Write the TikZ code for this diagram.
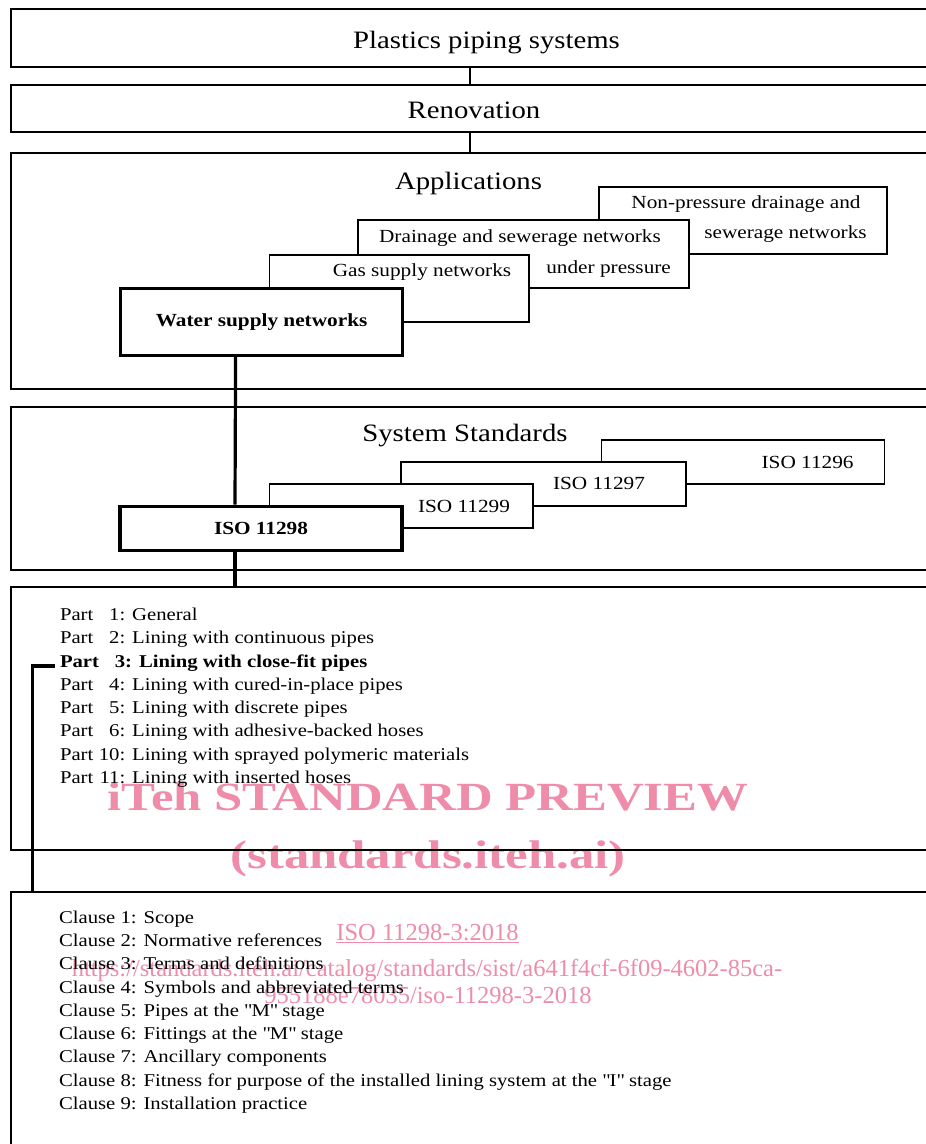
\documentclass[tikz,border=0pt]{standalone}
\usepackage{fontspec}
\setmainfont{Liberation Serif}[FakeStretch=1.15]
\newfontfamily\markfont{Liberation Serif}[FakeStretch=1.27]
\newfontfamily\linkfont{Liberation Serif}
\usetikzlibrary{positioning}
\definecolor{itehpink}{RGB}{238,140,170}
\newcommand{\pno}[1]{\makebox[21pt][r]{#1}}

\begin{document}
\begin{tikzpicture}[
    x=1pt, y=-1pt,
    frame/.style={draw, line width=1.8pt, anchor=north west, inner sep=0pt},
    stack/.style={draw, fill=white, line width=1.8pt, anchor=north west, inner sep=0pt},
    keybox/.style={stack, line width=3.2pt, font=\fontsize{18.5}{22}\selectfont\bfseries},
    title/.style={anchor=base, inner sep=0pt, font=\fontsize{25}{30}\selectfont},
    lbl/.style={anchor=base, inner sep=0pt, font=\fontsize{18.5}{22}\selectfont},
    item/.style={anchor=north west, inner sep=0pt, outer sep=0pt, text height=14pt, text depth=5pt, minimum height=23.25pt, font=\fontsize{18}{23}\selectfont},
    wm/.style={anchor=base, inner sep=0pt, text=itehpink},
    link/.style={line width=1.8pt},
    thicklink/.style={line width=3.2pt}
]
\useasboundingbox (0,0) rectangle (926,1144);
\clip (0,0) rectangle (926,1144);

\node[wm, font=\markfont\bfseries\fontsize{40}{48}\selectfont] (wm1) at (428,810) {iTeh STANDARD PREVIEW};
\node[wm, font=\markfont\bfseries\fontsize{40}{48}\selectfont] (wm2) at (428,868) {(standards.iteh.ai)};
\node[wm, font=\linkfont\fontsize{24.5}{29}\selectfont] (wm3) at (427.5,940.7) {\underline{ISO 11298-3:2018}};
\node[wm, font=\linkfont\fontsize{24.5}{29}\selectfont] (wm4) at (427,976) {https://standards.iteh.ai/catalog/standards/sist/a641f4cf-6f09-4602-85ca-};
\node[wm, font=\linkfont\fontsize{24.5}{29}\selectfont] (wm5) at (428,1003) {955188e78035/iso-11298-3-2018};

\node[frame, minimum width=918pt, minimum height=58pt] (plastics) at (10,8) {};
\node[frame, minimum width=918pt, minimum height=47pt] (renov) at (10,84) {};
\node[frame, minimum width=918pt, minimum height=236pt] (apps) at (10,152) {};
\node[frame, minimum width=918pt, minimum height=163pt] (sysstd) at (10,406) {};
\node[frame, minimum width=918pt, minimum height=263pt] (parts) at (10,586) {};
\node[frame, minimum width=918pt, minimum height=300pt] (clauses) at (10,891) {};

\node[title] (t-plastics) at (486.5,48.3) {Plastics piping systems};
\node[title] (t-renov) at (474,118.5) {Renovation};
\node[title] (t-apps) at (468.5,189) {Applications};
\node[title] (t-sysstd) at (465,441.5) {System Standards};

\node[stack, minimum width=288pt, minimum height=67pt] (nonpress) at (598,186) {};
\node[stack, minimum width=331pt, minimum height=68pt] (drain) at (357,219) {};
\node[stack, minimum width=259.4pt, minimum height=67pt] (gas) at (268.6,254) {};
\node[keybox, minimum width=282pt, minimum height=67pt] (water) at (119,287) {Water supply networks};

\node[lbl] (l-nonpress1) at (746,208) {Non-pressure drainage and};
\node[lbl] (l-nonpress2) at (785.5,238.5) {sewerage networks};
\node[lbl] (l-drain1) at (520,242) {Drainage and sewerage networks};
\node[lbl] (l-drain2) at (608.6,273) {under pressure};
\node[lbl] (l-gas) at (422,276.5) {Gas supply networks};

\node[stack, minimum width=283pt, minimum height=44pt] (iso96) at (600.5,439) {};
\node[stack, minimum width=284.5pt, minimum height=44pt] (iso97) at (400.3,461) {};
\node[stack, minimum width=263.4pt, minimum height=44pt] (iso99) at (268.6,483) {};
\node[keybox, minimum width=282pt, minimum height=44pt] (iso98) at (118.4,504.5) {ISO 11298};

\node[lbl] (l-iso96) at (807.6,468) {ISO 11296};
\node[lbl] (l-iso97) at (599,489.5) {ISO 11297};
\node[lbl] (l-iso99) at (464,512) {ISO 11299};

\node[item] (p1) at (60,604.6) {Part \pno{1}: General};
\node[item] (p2) at (p1.south west) {Part \pno{2}: Lining with continuous pipes};
\node[item, font=\fontsize{18}{23}\selectfont\bfseries] (p3) at (p2.south west) {Part \pno{3}: Lining with close-fit pipes};
\node[item] (p4) at (p3.south west) {Part \pno{4}: Lining with cured-in-place pipes};
\node[item] (p5) at (p4.south west) {Part \pno{5}: Lining with discrete pipes};
\node[item] (p6) at (p5.south west) {Part \pno{6}: Lining with adhesive-backed hoses};
\node[item] (p10) at (p6.south west) {Part \pno{10}: Lining with sprayed polymeric materials};
\node[item] (p11) at (p10.south west) {Part \pno{11}: Lining with inserted hoses};

\node[item] (c1) at (59,907.2) {Clause 1: Scope};
\node[item] (c2) at (c1.south west) {Clause 2: Normative references};
\node[item] (c3) at (c2.south west) {Clause 3: Terms and definitions};
\node[item] (c4) at (c3.south west) {Clause 4: Symbols and abbreviated terms};
\node[item] (c5) at (c4.south west) {Clause 5: Pipes at the \textquotedbl M\textquotedbl{} stage};
\node[item] (c6) at (c5.south west) {Clause 6: Fittings at the \textquotedbl M\textquotedbl{} stage};
\node[item] (c7) at (c6.south west) {Clause 7: Ancillary components};
\node[item] (c8) at (c7.south west) {Clause 8: Fitness for purpose of the installed lining system at the \textquotedbl I\textquotedbl{} stage};
\node[item] (c9) at (c8.south west) {Clause 9: Installation practice};

\draw[link] (plastics.south) -- (renov.north);
\draw[link] (renov.south) -- (apps.north);
\draw[thicklink] ([xshift=-26pt]water.south) -- ([xshift=-26pt]iso98.north);
\draw[thicklink] ([xshift=-26pt]iso98.south) -- ([xshift=-26pt]iso98.south |- parts.north);
\draw[thicklink] ([shift={(-5pt,-3.3pt)}]p3.west) -| ([xshift=22.5pt]clauses.north west);
\end{tikzpicture}
\end{document}
